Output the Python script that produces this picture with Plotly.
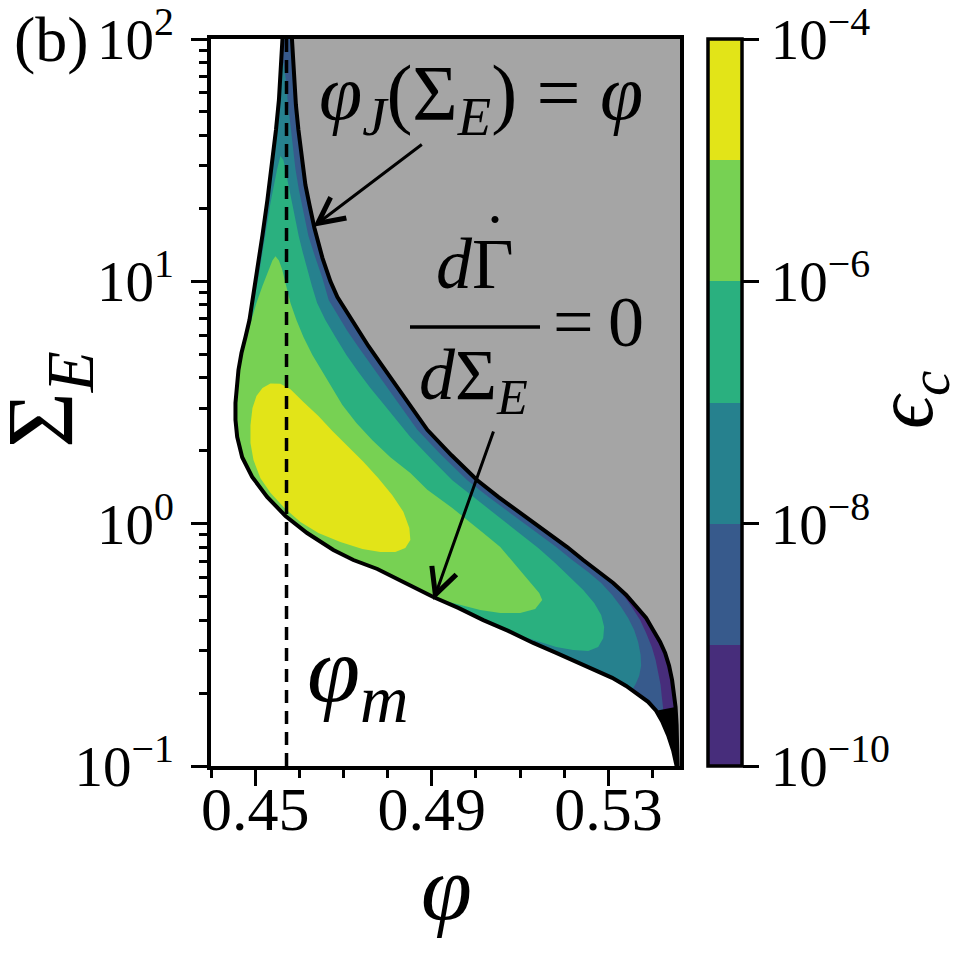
import plotly.graph_objects as go

# ---------------- data ----------------
phi_lo, phi_hi = 0.44, 0.5462          # x-axis range (phi)
sig_lo, sig_hi = 0.1, 100.0            # y-axis range (Sigma_E, log)
phi_m = 0.4571                         # dashed line phi_m

x_ticks = [0.45, 0.49, 0.53]
x_ticktext = ["0.45", "0.49", "0.53"]
x_minor = [0.44, 0.46, 0.47, 0.48, 0.50, 0.51, 0.52, 0.54]
y_ticks = [0.1, 1, 10, 100]
y_ticktext = ["10<sup>−1</sup>", "10<sup>0</sup>", "10<sup>1</sup>", "10<sup>2</sup>"]
y_minor = [0.2, 0.3, 0.4, 0.5, 0.6, 0.7, 0.8, 0.9, 2, 3, 4, 5, 6, 7, 8, 9,
           20, 30, 40, 50, 60, 70, 80, 90]

# colour bar: log10(eps_c) band edges
eps_edges = [-10, -9, -8, -7, -6, -5, -4]
cb_ticks = [-10, -8, -6, -4]
cb_ticktext = ["10<sup>−10</sup>", "10<sup>−8</sup>", "10<sup>−6</sup>", "10<sup>−4</sup>"]
band_colors = ["#472d7b", "#375a8c", "#26818e", "#2ab07f", "#77d153", "#e2e418"]

# jamming line  phi_J(Sigma_E) = phi  (right boundary)
jam_phi = [0.45833, 0.45855, 0.45889, 0.45923, 0.45980, 0.46059, 0.46138, 0.46229,
           0.46342, 0.46523, 0.46704, 0.46862, 0.47088, 0.47314, 0.47563, 0.47835,
           0.48106, 0.48355, 0.48627, 0.48898, 0.49441, 0.50029, 0.50504, 0.51002,
           0.51522, 0.52065, 0.52428, 0.52790, 0.53107, 0.53401, 0.53649, 0.53853,
           0.54011, 0.54170, 0.54283, 0.54373, 0.54441, 0.54486, 0.54520, 0.54543,
           0.54554, 0.54566]
jam_sig = [100, 81.9, 64.6, 53.4, 42.1, 31.7, 25.0, 20.7, 16.6, 12.5, 10.0, 8.62,
           7.40, 6.30, 5.41, 4.60, 3.92, 3.33, 2.86, 2.44, 1.92, 1.51, 1.29, 1.11,
           0.942, 0.801, 0.708, 0.632, 0.569, 0.508, 0.453, 0.408, 0.364, 0.325,
           0.293, 0.259, 0.226, 0.200, 0.175, 0.148, 0.122, 0.1]

# dGamma/dSigma_E = 0  (left / lower boundary)
low_phi = [0.45618, 0.45584, 0.45538, 0.45471, 0.45385, 0.45278, 0.45165, 0.45063,
           0.44973, 0.44871, 0.44781, 0.44690, 0.44622, 0.44577, 0.44554, 0.44554,
           0.44593, 0.44706, 0.44932, 0.45271, 0.45686, 0.46176, 0.46771, 0.47224,
           0.47767, 0.48400, 0.49034, 0.49600, 0.50165, 0.50731, 0.51296, 0.51817,
           0.52269, 0.52722, 0.53084, 0.53401, 0.53672, 0.53898, 0.54079, 0.54215,
           0.54351, 0.54464, 0.54543]
low_sig = [100, 74.5, 56.0, 42.1, 30.2, 21.7, 15.5, 11.7, 8.78, 6.92, 5.89, 5.06,
           4.31, 3.66, 3.15, 2.68, 2.28, 1.88, 1.56, 1.29, 1.076, 0.915, 0.779, 0.708,
           0.650, 0.569, 0.498, 0.449, 0.400, 0.361, 0.322, 0.293, 0.269, 0.249,
           0.231, 0.214, 0.198, 0.184, 0.169, 0.153, 0.134, 0.116, 0.1]
wedge_sig_max = 0.176

# contour eps_c = 1e-9
c9_phi = [0.53107, 0.53303, 0.53514, 0.53717, 0.53853, 0.53982, 0.54068, 0.54131,
          0.54181, 0.54208, 0.54238]
c9_sig = [0.569, 0.518, 0.457, 0.400, 0.354, 0.310, 0.274, 0.242, 0.216, 0.193, 0.173]

# contour eps_c = 1e-8
c8_phi = [0.45346, 0.45640, 0.45697, 0.45738, 0.45799, 0.45867, 0.45912, 0.45991,
          0.46070, 0.46206, 0.46364, 0.46523, 0.46665, 0.46862, 0.47088, 0.47337,
          0.47609, 0.47857, 0.48129, 0.48400, 0.48672, 0.49215, 0.49803, 0.50278,
          0.50776, 0.51296, 0.51817, 0.52179, 0.52541, 0.52835, 0.53084, 0.53287,
          0.53446, 0.53582, 0.53672, 0.53729, 0.53740, 0.53695, 0.53615, 0.53536,
          0.53265]
c8_sig = [85.9, 79.6, 67.7, 55.0, 44.2, 34.8, 29.1, 23.8, 20.3, 15.4, 12.5, 10.3,
          8.38, 7.26, 6.24, 5.36, 4.56, 3.92, 3.33, 2.86, 2.44, 1.92, 1.51, 1.29,
          1.11, 0.942, 0.801, 0.708, 0.632, 0.569, 0.508, 0.453, 0.408, 0.364,
          0.325, 0.287, 0.259, 0.235, 0.218, 0.206, 0.187]

# contour eps_c = 1e-7
c7_phi = [0.44667, 0.44968, 0.45104, 0.45233, 0.45346, 0.45498, 0.45572, 0.45640,
          0.45686, 0.45753, 0.45837, 0.45912, 0.45986, 0.46081, 0.46176, 0.46285,
          0.46403, 0.46590, 0.46817, 0.47066, 0.47337, 0.47609, 0.47925, 0.48197,
          0.48514, 0.49011, 0.49464, 0.49939, 0.50459, 0.50957, 0.51410, 0.51794,
          0.52133, 0.52428, 0.52677, 0.52835, 0.52903, 0.52881, 0.52767, 0.52541,
          0.52201, 0.51817, 0.51455, 0.51115, 0.50889]
c7_sig = [7.62, 8.16, 11.2, 15.4, 21.0, 29.1, 32.9, 31.7, 29.1, 25.0, 21.0, 17.9,
          15.4, 13.1, 11.2, 9.56, 8.14, 6.92, 5.89, 4.97, 4.23, 3.63, 3.09, 2.68,
          2.28, 1.83, 1.51, 1.29, 1.086, 0.915, 0.794, 0.688, 0.602, 0.532, 0.471,
          0.420, 0.375, 0.337, 0.310, 0.298, 0.301, 0.310, 0.325, 0.340, 0.301]

# contour eps_c = 1e-6
c6_phi = [0.44554, 0.44826, 0.44916, 0.45029, 0.45165, 0.45301, 0.45391, 0.45459,
          0.45538, 0.45611, 0.45708, 0.45799, 0.45934, 0.46093, 0.46296, 0.46523,
          0.46749, 0.46975, 0.47292, 0.47654, 0.48061, 0.48514, 0.48898, 0.49464,
          0.50165, 0.50550, 0.50934, 0.51229, 0.51432, 0.51500, 0.51341, 0.51002,
          0.50550, 0.50097, 0.49645, 0.49305, 0.48966]
c6_sig = [6.00, 6.00, 6.92, 8.14, 9.56, 11.2, 12.2, 12.7, 12.2, 11.2, 9.56, 8.14,
          6.92, 5.89, 4.97, 4.23, 3.63, 3.09, 2.60, 2.21, 1.88, 1.62, 1.38, 1.16,
          0.915, 0.801, 0.663, 0.574, 0.518, 0.484, 0.444, 0.428, 0.428, 0.440,
          0.462, 0.480, 0.420]

# contour eps_c = 1e-5 (closed)
c5_phi = [0.45165, 0.45346, 0.45572, 0.45799, 0.46093, 0.46432, 0.46749, 0.47111,
          0.47450, 0.47790, 0.48106, 0.48355, 0.48491, 0.48514, 0.48400, 0.48174,
          0.47835, 0.47428, 0.46930, 0.46432, 0.46025, 0.45663, 0.45346, 0.45120,
          0.44962, 0.44894, 0.44894, 0.44939, 0.45029]
c5_sig = [3.63, 3.79, 3.78, 3.59, 3.18, 2.78, 2.41, 2.07, 1.80, 1.54, 1.31, 1.12,
          0.960, 0.856, 0.794, 0.764, 0.764, 0.786, 0.840, 0.915, 1.016, 1.16, 1.34,
          1.54, 1.83, 2.15, 2.55, 3.00, 3.36]

GRAY = "#a5a5a5"
FONT = "Liberation Serif"

# ---------------- figure ----------------
fig = go.Figure()


def fill(xs, ys, color):
    fig.add_trace(go.Scatter(x=xs, y=ys, mode="lines", fill="toself", fillcolor=color,
                             line=dict(width=0), hoverinfo="skip", showlegend=False))


# band 1: whole allowed region
fill(low_phi + jam_phi[::-1], low_sig + jam_sig[::-1], band_colors[0])
# band 2 (>1e-9)
fill(c9_phi + [c9_phi[-1], phi_lo, phi_lo, phi_hi, phi_hi],
     c9_sig + [sig_lo, sig_lo, sig_hi, sig_hi, c9_sig[0]], band_colors[1])
# bands 3-5
for cx, cy, col in [(c8_phi, c8_sig, band_colors[2]),
                    (c7_phi, c7_sig, band_colors[3]),
                    (c6_phi, c6_sig, band_colors[4])]:
    fill(cx + [phi_lo, phi_lo], cy + [sig_lo, cy[0]], col)
# band 6
fill(c5_phi, c5_sig, band_colors[5])

# masks: outside (white, left/below) and jammed region (gray, right)
fill(low_phi + [phi_lo, phi_lo], low_sig + [sig_lo, sig_hi], "white")
fill(jam_phi + [phi_hi, phi_hi], jam_sig + [sig_lo, sig_hi], GRAY)
# black wedge where both boundary lines merge
wl = [(p, s) for p, s in zip(low_phi, low_sig) if s <= wedge_sig_max]
wj = [(p, s) for p, s in zip(jam_phi, jam_sig) if s <= wedge_sig_max][::-1]
fill([p for p, s in wl + wj], [s for p, s in wl + wj], "black")

# boundary lines
fig.add_trace(go.Scatter(x=low_phi, y=low_sig, mode="lines",
                         line=dict(color="black", width=4), hoverinfo="skip", showlegend=False))
fig.add_trace(go.Scatter(x=jam_phi, y=jam_sig, mode="lines",
                         line=dict(color="black", width=4), hoverinfo="skip", showlegend=False))
# phi_m dashed line
fig.add_trace(go.Scatter(x=[phi_m, phi_m], y=[sig_lo, sig_hi], mode="lines",
                         line=dict(color="black", width=3.5, dash="13px,8px"),
                         hoverinfo="skip", showlegend=False))

# colour bar via an invisible trace
n = len(band_colors)
cscale = []
for i, c in enumerate(band_colors):
    cscale += [[i / n, c], [(i + 1) / n, c]]
fig.add_trace(go.Scatter(
    x=[None], y=[None], mode="markers", hoverinfo="skip", showlegend=False,
    marker=dict(color=[eps_edges[0]], colorscale=cscale, cmin=eps_edges[0], cmax=eps_edges[-1],
                showscale=True,
                colorbar=dict(thickness=34, thicknessmode="pixels", len=727, lenmode="pixels",
                              x=708 / 960, xanchor="left", y=1 - 39 / 960, yanchor="top",
                              xpad=0, ypad=0, outlinewidth=3.5, outlinecolor="black",
                              ticks="outside", ticklen=16, tickwidth=3, tickcolor="black",
                              tickvals=cb_ticks, ticktext=cb_ticktext,
                              ticklabeloverflow="allow",
                              tickfont=dict(family=FONT, size=57, color="black")))))

fig.update_layout(
    width=960, height=960, margin=dict(l=0, r=0, t=0, b=0, autoexpand=False),
    paper_bgcolor="white", plot_bgcolor="white", showlegend=False,
    font=dict(family=FONT, color="black"),
)
fig.update_xaxes(
    domain=[211 / 960, 680 / 960], range=[phi_lo, phi_hi], automargin=False,
    tickmode="array", tickvals=x_ticks, ticktext=x_ticktext,
    ticks="outside", ticklen=16, tickwidth=3, tickcolor="black",
    ticklabeloverflow="allow", ticklabelstandoff=-30,
    tickfont=dict(family=FONT, size=62, color="black"),
    minor=dict(tickmode="array", tickvals=x_minor, ticks="outside", ticklen=8,
               tickwidth=2.5, tickcolor="black", showgrid=False),
    showline=True, linewidth=3.5, linecolor="black", mirror=True,
    showgrid=False, zeroline=False,
)
fig.update_yaxes(
    type="log", domain=[1 - 766 / 960, 1 - 39 / 960], range=[-1, 2], automargin=False,
    tickmode="array", tickvals=y_ticks, ticktext=y_ticktext,
    ticks="outside", ticklen=16, tickwidth=3, tickcolor="black",
    ticklabeloverflow="allow", ticklabelstandoff=6,
    tickfont=dict(family=FONT, size=57, color="black"),
    minor=dict(tickmode="array", tickvals=y_minor, ticks="outside", ticklen=8,
               tickwidth=2.5, tickcolor="black", showgrid=False),
    showline=True, linewidth=3.5, linecolor="black", mirror=True,
    showgrid=False, zeroline=False,
)


def px(x):
    return x / 960


def py(y):
    return 1 - y / 960


def text(x, y, s, size, angle=0, xanchor="center"):
    fig.add_annotation(x=px(x), y=py(y), xref="paper", yref="paper", text=s,
                       showarrow=False, textangle=angle, xanchor=xanchor, yanchor="middle",
                       font=dict(family=FONT, size=size, color="black"))


text(12, 40, "(b)", 64, xanchor="left")
text(481, 98, "<i>φ</i><sub><i>J</i></sub>(Σ<sub><i>E</i></sub>) = <i>φ</i>", 78)
text(475, 264, "<i>d</i>Γ", 72)
text(495, 219, "·", 60)
text(473, 380, "<i>d</i>Σ<sub><i>E</i></sub>", 72)
text(598, 322, "=\u20090", 72)
text(358, 676, "<i>φ</i><sub><i>m</i></sub>", 96)
text(446, 888, "<i>φ</i>", 92)
text(47, 400, "Σ<sub><i>E</i></sub>", 96, angle=-90)
text(910, 400, "<i>ϵ</i><sub><i>c</i></sub>", 82, angle=-90)

# fraction bar
fig.add_shape(type="line", xref="paper", yref="paper", x0=px(410), x1=px(540),
              y0=py(327), y1=py(327), line=dict(color="black", width=3.5))

# arrows
for (tx, ty, sx, sy) in [(313.3, 226.7, 423.3, 143.3), (433.5, 600, 494, 430)]:
    fig.add_annotation(x=px(tx), y=py(ty), xref="paper", yref="paper", text="",
                       showarrow=True, ax=sx - tx, ay=sy - ty, axref="pixel", ayref="pixel",
                       arrowhead=5, arrowsize=1.7, arrowwidth=3, arrowcolor="black")

fig.write_html("out.html")
